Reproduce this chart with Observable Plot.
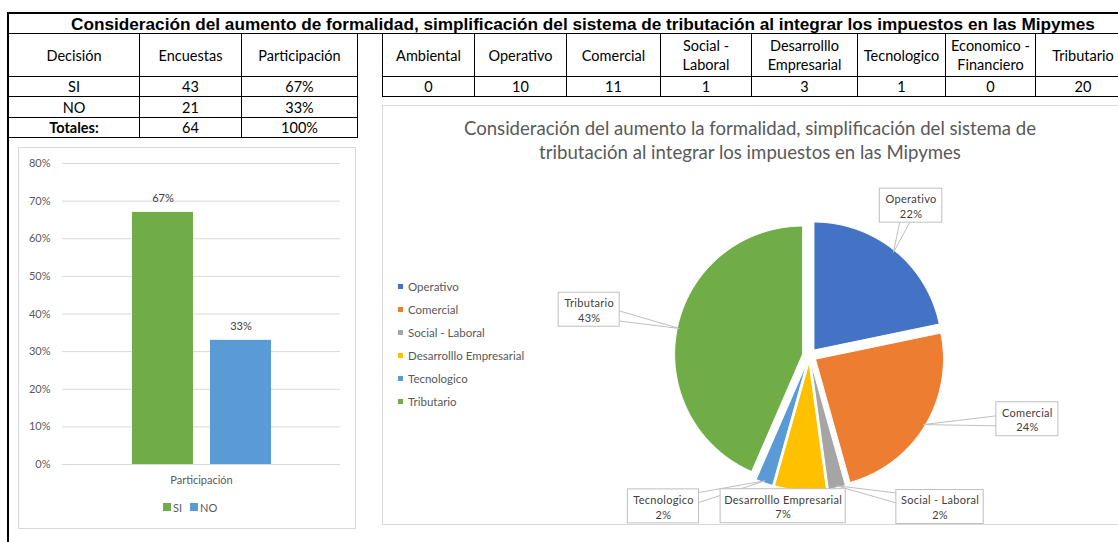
<!DOCTYPE html>
<html><head><meta charset="utf-8">
<script src="https://cdn.jsdelivr.net/npm/d3@7"></script>
<script src="https://cdn.jsdelivr.net/npm/@observablehq/plot@0.6"></script>
<style>
html,body{margin:0;padding:0;background:#fff;}
body{width:1118px;height:542px;overflow:hidden;position:relative;font-family:Lato,"Open Sans",sans-serif;color:#000;}
.a{position:absolute;box-sizing:border-box;}
.cell{position:absolute;box-sizing:border-box;border:1px solid #000;display:flex;flex-direction:column;align-items:center;justify-content:center;font-size:14.5px;line-height:19px;white-space:nowrap;overflow:hidden;}
svg{overflow:visible;}
</style></head><body>
<div id="root"></div>
<script>
// ---------------- DATA ----------------
const mainTitle = "Consideración del aumento de formalidad, simplificación del sistema de tributación al integrar los impuestos en las Mipymes";
const pieTitle = ["Consideración del aumento la formalidad, simplificación del sistema de", "tributación al integrar los impuestos en las Mipymes"];
const decisionHeaders = ["Decisión", "Encuestas", "Participación"];
const decisions = ["SI", "NO"];
const encuestas = [43, 21];
const participacion = [0.67, 0.33];
const totalLabel = "Totales:";
const totalEncuestas = 64;
const totalParticipacion = 1.00;
const areas = ["Ambiental", "Operativo", "Comercial", "Social - Laboral", "Desarrolllo Empresarial", "Tecnologico", "Economico - Financiero", "Tributario"];
const areaHeaderLines = [["Ambiental"], ["Operativo"], ["Comercial"], ["Social -", "Laboral"], ["Desarrolllo", "Empresarial"], ["Tecnologico"], ["Economico -", "Financiero"], ["Tributario"]];
const areaCounts = [0, 10, 11, 1, 3, 1, 0, 20];
const barCategory = "Participación";
const barTicks = [0, 0.1, 0.2, 0.3, 0.4, 0.5, 0.6, 0.7, 0.8];

// ---------------- STYLE / LAYOUT ----------------
const decisionColors = ["#70AD47", "#5B9BD5"];
const areaColor = {
  "Operativo": "#4472C4", "Comercial": "#ED7D31", "Social - Laboral": "#A5A5A5",
  "Desarrolllo Empresarial": "#FFC000", "Tecnologico": "#5B9BD5", "Tributario": "#70AD47",
  "Ambiental": "#264478", "Economico - Financiero": "#9E480E"
};
const calloutLayout = {
  "Operativo": {shift: -5, dist: 181},
  "Comercial": {shift: -15, dist: 227},
  "Social - Laboral": {shift: -29, dist: 200},
  "Desarrolllo Empresarial": {shift: 6, dist: 153},
  "Tecnologico": {shift: 24.5, dist: 210},
  "Tributario": {shift: 0, dist: 225}
};
const pct = d3.format(".0%");
const root = document.getElementById("root");
function el(tag, cls, style, html) {
  const e = document.createElement(tag);
  if (cls) e.className = cls;
  if (style) e.setAttribute("style", style);
  if (html != null) e.innerHTML = html;
  root.appendChild(e);
  return e;
}
function cell(x0, x1, y0, y1, lines, extra) {
  const c = el("div", "cell", `left:${x0}px;top:${y0}px;width:${x1 - x0 + 1}px;height:${y1 - y0 + 1}px;${extra || ""}`);
  lines.forEach(t => { const s = document.createElement("div"); s.textContent = t; c.appendChild(s); });
}

// frame + title
el("div", "a", "left:7px;top:12px;width:1111px;height:2px;background:#000");
el("div", "a", "left:7px;top:12px;width:2px;height:530px;background:#000");
const t = el("div", "a", "left:8px;top:14px;width:1150px;height:20px;line-height:20px;text-align:center;font:bold 17.2px 'Liberation Sans',Arial,sans-serif;white-space:nowrap;");
t.textContent = mainTitle;
el("div", "a", "left:8px;top:33px;width:1110px;height:1px;background:#000");

// left table
const lx = [8, 139, 241, 357], ly = [33, 76, 96, 117, 137];
decisionHeaders.forEach((h, j) => cell(lx[j], lx[j + 1], ly[0], ly[1], [h]));
decisions.forEach((d, i) => {
  const row = [d, String(encuestas[i]), pct(participacion[i])];
  row.forEach((v, j) => cell(lx[j], lx[j + 1], ly[i + 1], ly[i + 2], [v]));
});
[totalLabel, String(totalEncuestas), pct(totalParticipacion)].forEach((v, j) =>
  cell(lx[j], lx[j + 1], ly[3], ly[4], [v], j === 0 ? "font-weight:bold;" : ""));

// right table
const rx = [382, 474, 566, 660, 751, 857, 945, 1035, 1130], ry = [33, 76, 96];
areaHeaderLines.forEach((h, j) => cell(rx[j], rx[j + 1], ry[0], ry[1], h));
areaCounts.forEach((v, j) => cell(rx[j], rx[j + 1], ry[1], ry[2], [String(v)]));

// ---------------- BAR CHART ----------------
el("div", "a", "left:18px;top:147px;width:338px;height:382px;border:1px solid #D9D9D9;");
const barData = decisions.map((d, i) => ({decision: d, value: participacion[i]}));
const bar = Plot.plot({
  width: 337, height: 381, marginLeft: 44, marginRight: 15, marginTop: 16, marginBottom: 64,
  style: {fontFamily: "Lato, sans-serif", fontSize: "11px", color: "#595959", background: "transparent"},
  x: {type: "band", domain: decisions, range: [113, 254], paddingInner: 0.215, paddingOuter: 0, axis: null},
  y: {domain: [0, 0.8], axis: null, label: null},
  color: {domain: decisions, range: decisionColors},
  marks: [
    Plot.gridY(barTicks, {stroke: "#D9D9D9", strokeOpacity: 1}),
    Plot.axisY(barTicks, {tickFormat: pct, tickSize: 0, tickPadding: 12, fontSize: 11, fill: "#595959", label: null}),
    Plot.barY(barData, {x: "decision", y: "value", fill: "decision"}),
    Plot.text(barData, {x: "decision", y: "value", text: d => pct(d.value), dy: -13.5, fill: "#404040", fontSize: 11}),
    Plot.text([barCategory], {frameAnchor: "bottom", dy: 19, fill: "#595959", fontSize: 11})
  ]
});
bar.style.position = "absolute"; bar.style.left = "18px"; bar.style.top = "147px";
root.appendChild(bar);
// bar legend
const bl = el("div", "a", "left:163px;top:499px;height:16px;display:flex;align-items:center;font-size:11px;color:#595959;white-space:nowrap;");
decisions.forEach((d, i) => {
  const sq = document.createElement("span");
  sq.setAttribute("style", `display:inline-block;width:8px;height:8px;background:${decisionColors[i]};margin-right:2px;${i ? "margin-left:8px;" : ""}`);
  bl.appendChild(sq);
  const tx = document.createElement("span"); tx.textContent = d; bl.appendChild(tx);
});

// ---------------- PIE CHART ----------------
el("div", "a", "left:382px;top:105px;width:760px;height:420px;border:1px solid #D9D9D9;");
const pt = el("div", "a", "left:382px;top:116px;width:736px;text-align:center;font-size:18.6px;line-height:24px;color:#595959;white-space:nowrap;");
pt.innerHTML = pieTitle.map(s => `<div>${s}</div>`).join("");

const pieItems = areas.map((a, i) => ({area: a, count: areaCounts[i]})).filter(d => d.count > 0);
const total = d3.sum(pieItems, d => d.count);
const arcs = d3.pie().sort(null).value(d => d.count)(pieItems);
const R = 128, E = 7;
const polar = (a, r) => [r * Math.sin(a), r * Math.cos(a)];
const slices = arcs.map(a => {
  const mid = (a.startAngle + a.endAngle) / 2;
  const [ox, oy] = polar(mid, E);
  const pts = [{x: ox, y: oy}];
  const n = Math.max(2, Math.ceil((a.endAngle - a.startAngle) / (Math.PI / 180)));
  for (let k = 0; k <= n; k++) {
    const th = a.startAngle + (a.endAngle - a.startAngle) * k / n;
    const [px, py] = polar(th, R);
    pts.push({x: ox + px, y: oy + py});
  }
  pts.push({x: ox, y: oy});
  return {area: a.data.area, mid, pts};
});
// callouts
const ctx = document.createElement("canvas").getContext("2d");
ctx.font = "11px Lato";
const callouts = slices.map(s => {
  const lay = calloutLayout[s.area];
  const ang = s.mid + lay.shift * Math.PI / 180;
  const [cx, cy] = polar(ang, lay.dist);
  const count = pieItems.find(d => d.area === s.area).count;
  const label = s.area + "\n" + pct(count / total);
  const tw = Math.max(ctx.measureText(s.area).width, ctx.measureText(pct(count / total)).width);
  const w = Math.max(61, tw + 14), h = 34;
  const [ax, ay] = polar(s.mid, R + E - 2);
  let wedge = null;
  const dx = ax - cx, dy = ay - cy;
  const tt = Math.min((w / 2) / Math.abs(dx || 1e-9), (h / 2) / Math.abs(dy || 1e-9));
  if (tt < 1) {
    const px = cx + tt * dx, py = cy + tt * dy;
    const onSide = (w / 2) / Math.abs(dx || 1e-9) <= (h / 2) / Math.abs(dy || 1e-9);
    wedge = onSide
      ? [{x: px, y: py - 5}, {x: ax, y: ay}, {x: px, y: py + 5}]
      : [{x: px - 5, y: py}, {x: ax, y: ay}, {x: px + 5, y: py}];
  }
  return {area: s.area, cx, cy, w, h, label, wedge};
});
const PW = 736, PH = 419, CX = 427, CY = 250;
const pie = Plot.plot({
  width: PW, height: PH, margin: 0,
  style: {fontFamily: "Lato, sans-serif", fontSize: "11px", background: "transparent", letterSpacing: "0.3px"},
  x: {domain: [-CX, PW - CX], range: [0, PW], axis: null},
  y: {domain: [-(PH - CY), CY], range: [PH, 0], axis: null},
  marks: [
    ...slices.map(s => Plot.line(s.pts, {x: "x", y: "y", fill: areaColor[s.area], stroke: "#fff", strokeWidth: 1})),
    ...callouts.filter(c => c.wedge).map(c => Plot.line(c.wedge, {x: "x", y: "y", fill: "#fff", stroke: "#BFBFBF", strokeWidth: 1})),
    Plot.rect(callouts, {x1: d => d.cx - d.w / 2, x2: d => d.cx + d.w / 2, y1: d => d.cy - d.h / 2, y2: d => d.cy + d.h / 2, fill: "#fff", stroke: "#BFBFBF", strokeWidth: 1}),
    Plot.text(callouts, {x: "cx", y: "cy", text: "label", lineHeight: 1.36, fill: "#404040", fontSize: 11})
  ]
});
pie.style.position = "absolute"; pie.style.left = "382px"; pie.style.top = "105px";
root.appendChild(pie);
// pie legend
pieItems.forEach((d, i) => {
  const row = el("div", "a", `left:398px;top:${278 + i * 23}px;height:16px;display:flex;align-items:center;font-size:11.5px;color:#595959;white-space:nowrap;`);
  const sq = document.createElement("span");
  sq.setAttribute("style", `display:inline-block;width:5px;height:5px;background:${areaColor[d.area]};margin-right:5px;`);
  row.appendChild(sq);
  const tx = document.createElement("span"); tx.textContent = d.area; row.appendChild(tx);
});
</script>
</body></html>
